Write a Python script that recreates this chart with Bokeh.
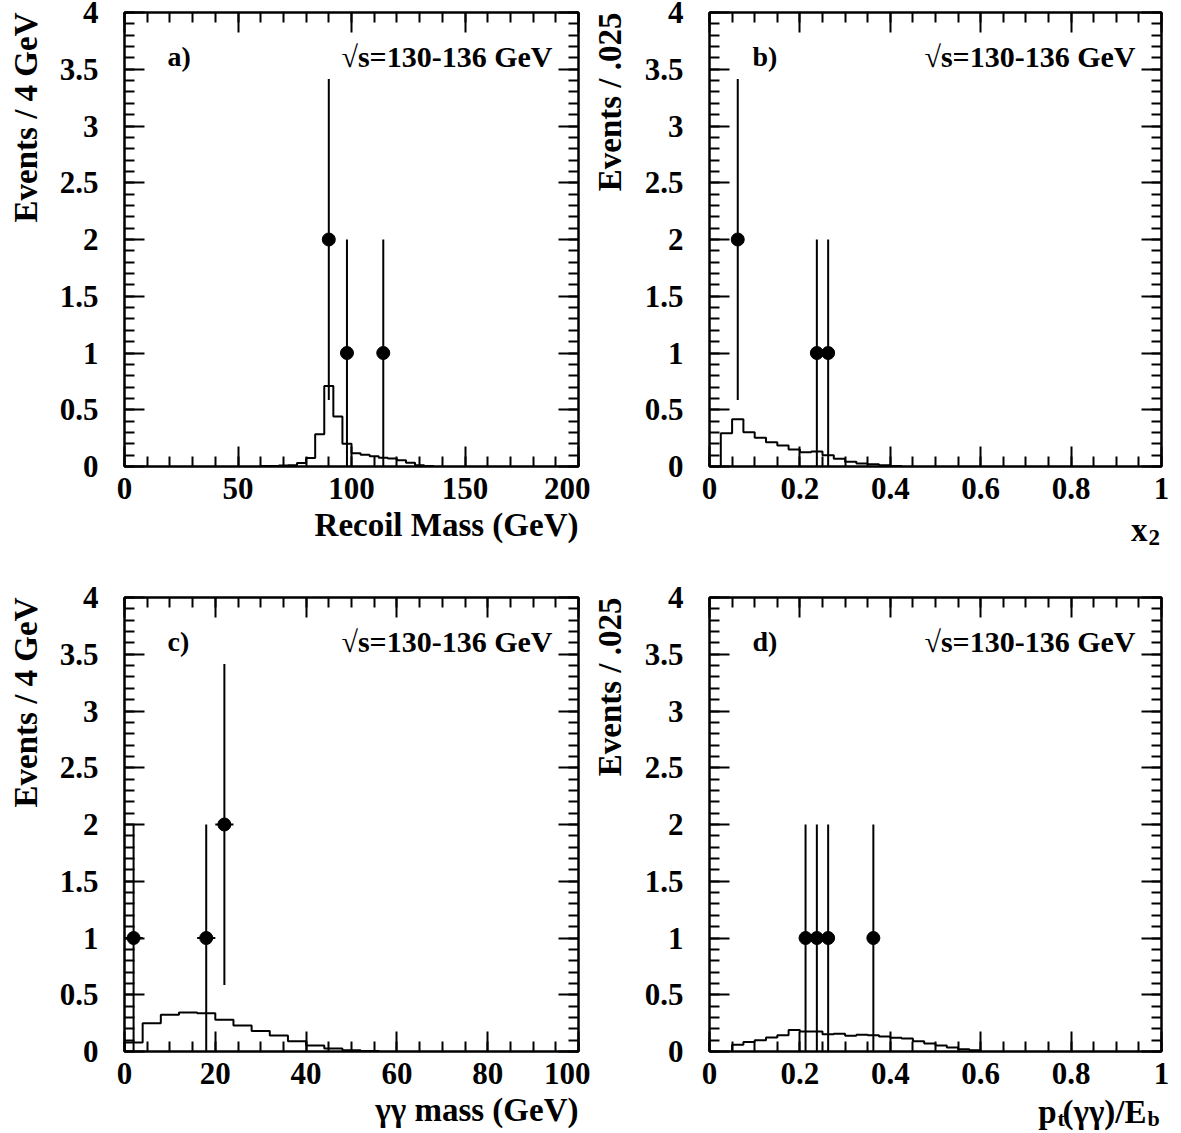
import math
from bokeh.plotting import figure
from bokeh.layouts import column, row
from bokeh.models import (FixedTicker, LinearAxis, Label, CustomJSTickFormatter,
                          Range1d, ColumnDataSource, GridBox)
from bokeh.core.properties import value
from bokeh.embed import file_html
from bokeh.resources import INLINE

FONT = "Liberation Serif"

# ---------------- data ----------------
energy_label = "\u221as=130-136 GeV"

# panel a: recoil mass
a_hist_start = 60.0
a_hist_width = 4.0
a_hist = [0.004, 0.005, 0.008, 0.012, 0.03, 0.075, 0.285, 0.71, 0.44, 0.2,
          0.117, 0.103, 0.09, 0.077, 0.07, 0.056, 0.033, 0.01, 0.004]
a_pts_x = [90, 98, 114]
a_pts_y = [2, 1, 1]
a_pts_err = [1.414, 1.0, 1.0]
a_xticks = [0, 50, 100, 150, 200]

# panel b: x2
b_hist_start = 0.025
b_hist_width = 0.025
b_hist = [0.293, 0.417, 0.302, 0.253, 0.214, 0.185, 0.15, 0.126, 0.132, 0.1,
          0.068, 0.041, 0.026, 0.02, 0.01, 0.005]
b_pts_x = [0.0625, 0.2375, 0.2625]
b_pts_y = [2, 1, 1]
b_pts_err = [1.414, 1.0, 1.0]
b_xticks = [0, 0.2, 0.4, 0.6, 0.8, 1.0]

# panel c: gamma gamma mass
c_hist_start = 0.0
c_hist_width = 4.0
c_hist = [0.08, 0.25, 0.324, 0.344, 0.338, 0.28, 0.23, 0.18, 0.14, 0.09,
          0.053, 0.027, 0.01, 0.004]
c_pts_x = [2, 18, 22]
c_pts_y = [1, 1, 2]
c_pts_err = [1.0, 1.0, 1.414]
c_xticks = [0, 20, 40, 60, 80, 100]

# panel d: pt(gg)/Eb
d_hist_start = 0.05
d_hist_width = 0.025
d_hist = [0.06, 0.083, 0.1, 0.124, 0.144, 0.19, 0.177, 0.177, 0.153, 0.156,
          0.138, 0.147, 0.144, 0.132, 0.121, 0.115, 0.091, 0.07, 0.053, 0.035,
          0.02, 0.01]
d_pts_x = [0.2125, 0.2375, 0.2625, 0.3625]
d_pts_y = [1, 1, 1, 1]
d_pts_err = [1.0, 1.0, 1.0, 1.0]
d_xticks = [0, 0.2, 0.4, 0.6, 0.8, 1.0]

y_ticks = [0, 0.5, 1, 1.5, 2, 2.5, 3, 3.5, 4]
y_label_ac = "Events / 4 GeV"
y_label_bd = "Events / .025"
x_label_a = "Recoil Mass (GeV)"
x_label_c = "\u03b3\u03b3 mass (GeV)"
x_label_b = ["x", "2"]                       # x with subscript 2
x_label_d = ["p", "t", "(\u03b3\u03b3)/E", "b"]  # p_t(gg)/E_b

PAGE_W, PAGE_H = 1181, 1133

fmt = CustomJSTickFormatter(code="return String(Math.round(tick*1000)/1000);")
blank = CustomJSTickFormatter(code="return '';")


def style_axis(ax, ticks, minor, show_labels):
    ax.ticker = FixedTicker(ticks=ticks, minor_ticks=minor)
    ax.axis_line_width = 2
    ax.axis_line_color = "black"
    ax.major_tick_in = 20
    ax.major_tick_out = 0
    ax.minor_tick_in = 10
    ax.minor_tick_out = 0
    ax.major_tick_line_width = 2
    ax.minor_tick_line_width = 2
    ax.major_tick_line_color = "black"
    ax.minor_tick_line_color = "black"
    if show_labels:
        ax.formatter = fmt
        ax.major_label_text_font = FONT
        ax.major_label_text_font_style = "bold"
        ax.major_label_text_font_size = "31px"
        ax.major_label_text_color = "black"
    else:
        ax.formatter = blank
        ax.major_label_standoff = 0


def make_panel(xr, xticks, xminor_step, frame_w, borders, hist_start,
               hist_width, hist, px, py, perr, letter):
    left, right, top, bottom = borders
    x0, x1 = xr
    p = figure(frame_width=frame_w, frame_height=454,
               x_range=Range1d(x0, x1), y_range=Range1d(0, 4),
               output_backend="svg", toolbar_location=None,
               min_border_left=left, min_border_right=right,
               min_border_top=top, min_border_bottom=bottom)
    p.background_fill_color = "white"
    p.border_fill_color = "white"
    p.outline_line_color = "black"
    p.outline_line_width = 2
    p.xgrid.visible = False
    p.ygrid.visible = False

    n_minor = int(round((x1 - x0) / xminor_step))
    xminor = [x0 + i * xminor_step for i in range(n_minor + 1)]
    yminor = [i * 0.1 for i in range(41)]

    style_axis(p.xaxis[0], xticks, xminor, True)
    style_axis(p.yaxis[0], y_ticks, yminor, True)
    p.xaxis[0].major_label_standoff = 11
    p.yaxis[0].major_label_standoff = 26

    top_ax = LinearAxis()
    style_axis(top_ax, xticks, xminor, False)
    p.add_layout(top_ax, "above")
    right_ax = LinearAxis()
    style_axis(right_ax, y_ticks, yminor, False)
    p.add_layout(right_ax, "right")

    # histogram outline built from bin contents
    hx, hy = [hist_start], [0.0]
    for i, v in enumerate(hist):
        lo = hist_start + i * hist_width
        hi = lo + hist_width
        hx += [lo, hi]
        hy += [v, v]
    hx.append(hist_start + len(hist) * hist_width)
    hy.append(0.0)
    p.line(hx, hy, line_color="black", line_width=2)

    # data points with errors
    half = hist_width / 2.0
    src = ColumnDataSource(dict(
        x=px, y=py,
        ylo=[max(0.0, y - e) for y, e in zip(py, perr)],
        yhi=[y + e for y, e in zip(py, perr)],
        xlo=[x - half for x in px],
        xhi=[x + half for x in px]))
    p.segment(x0="x", y0="ylo", x1="x", y1="yhi", source=src,
              line_color="black", line_width=2)
    p.segment(x0="xlo", y0="y", x1="xhi", y1="y", source=src,
              line_color="black", line_width=2)
    p.scatter(x="x", y="y", source=src, size=13, marker="circle",
              fill_color="black", line_color="black")

    sx = (x1 - x0) / frame_w
    sy = 4.0 / 454

    p.add_layout(Label(x=x0 + 43 * sx, y=4 - 44 * sy, text=letter,
                       text_font=FONT, text_font_style="bold",
                       text_font_size="28px", text_align="left",
                       text_baseline="alphabetic", text_color="black"))
    p.add_layout(Label(x=x1 - 26 * sx, y=4 - 44 * sy, text=energy_label,
                       text_font=FONT, text_font_style="bold",
                       text_font_size="30px", text_align="right",
                       text_baseline="alphabetic", text_color="black"))
    return p


pa = make_panel((0, 200), a_xticks, 10, 454, (124, 12, 12, 117),
                a_hist_start, a_hist_width, a_hist,
                a_pts_x, a_pts_y, a_pts_err, "a)")
pb = make_panel((0, 1), b_xticks, 0.05, 452, (119, 20, 12, 117),
                b_hist_start, b_hist_width, b_hist,
                b_pts_x, b_pts_y, b_pts_err, "b)")
pc = make_panel((0, 100), c_xticks, 5, 454, (124, 12, 14, 82),
                c_hist_start, c_hist_width, c_hist,
                c_pts_x, c_pts_y, c_pts_err, "c)")
pd = make_panel((0, 1), d_xticks, 0.05, 452, (119, 20, 14, 82),
                d_hist_start, d_hist_width, d_hist,
                d_pts_x, d_pts_y, d_pts_err, "d)")

# ---------- transparent overlay carrying the axis titles ----------
ov = figure(width=PAGE_W, height=PAGE_H, x_range=Range1d(0, PAGE_W),
            y_range=Range1d(0, PAGE_H), x_axis_type=None, y_axis_type=None,
            output_backend="svg", toolbar_location=None,
            min_border=0, min_border_left=0, min_border_right=0,
            min_border_top=0, min_border_bottom=0)
ov.background_fill_alpha = 0
ov.border_fill_alpha = 0
ov.outline_line_color = None
ov.grid.visible = False


def otext(x, y_top, text, size, align="left", angle=0.0):
    ov.text(x=[x], y=[PAGE_H - y_top], text=[text], angle=angle,
            text_font=value(FONT), text_font_style="bold",
            text_font_size=size, text_align=align,
            text_baseline="alphabetic", text_color="black")


# x titles (page pixel positions, measured from top-left)
otext(578, 524, x_label_a, "33px", "right")
otext(1147, 529, x_label_b[0], "33px", "right")
otext(1148, 537, x_label_b[1], "23px", "left")
otext(578, 1109, x_label_c, "33px", "right")
otext(1056, 1111, x_label_d[0], "33px", "right")
otext(1057, 1118, x_label_d[1], "22px", "left")
otext(1146, 1111, x_label_d[2], "33px", "right")
otext(1147, 1118, x_label_d[3], "22px", "left")

# y titles (rotated, top-aligned to the frame)
otext(25, 12, y_label_ac, "33px", "right", math.pi / 2)
otext(609, 12, y_label_bd, "33px", "right", math.pi / 2)
otext(25, 597, y_label_ac, "33px", "right", math.pi / 2)
otext(609, 597, y_label_bd, "33px", "right", math.pi / 2)

inner = column(row(pa, pb), row(pc, pd))
layout = GridBox(children=[(inner, 0, 0), (ov, 0, 0)])
open("out.html", "w").write(file_html(layout, INLINE))
